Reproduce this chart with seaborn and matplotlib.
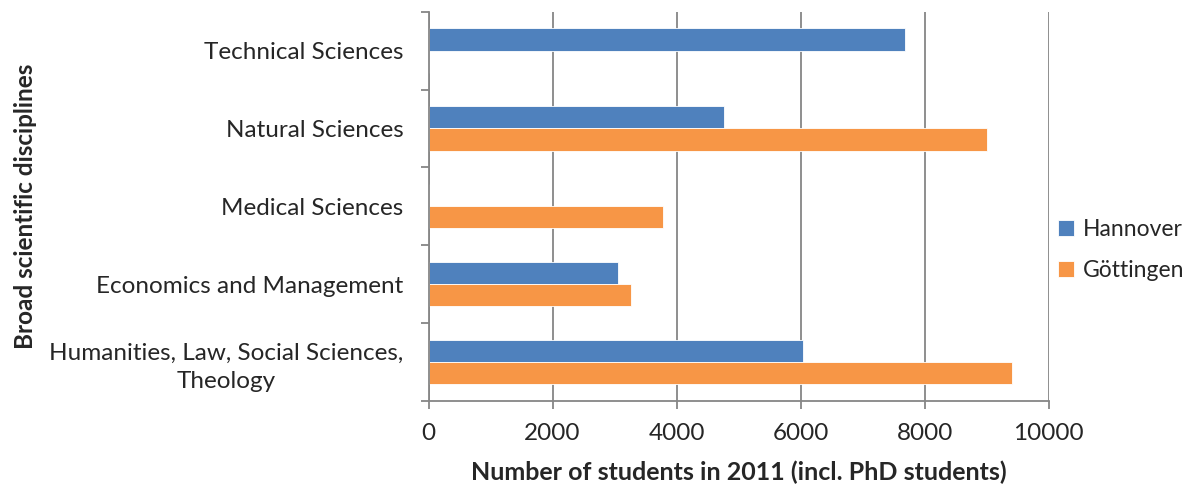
import matplotlib
matplotlib.use("Agg")
import matplotlib.pyplot as plt
import seaborn as sns
import pandas as pd
import numpy as np

# Student numbers per broad discipline (2011, incl. PhD students)
disciplines = [
    "Technical Sciences",
    "Natural Sciences",
    "Medical Sciences",
    "Economics and Management",
    "Humanities, Law, Social Sciences,\nTheology",
]
hannover = [7690, 4760, 0, 3060, 6035]
goettingen = [0, 9010, 3780, 3260, 9410]
universities = ["Hannover", "Göttingen"]
colors = ["#4F81BD", "#F79646"]
xticks = [0, 2000, 4000, 6000, 8000, 10000]

df = pd.DataFrame({
    "discipline": disciplines * 2,
    "students": hannover + goettingen,
    "university": [universities[0]] * len(disciplines) + [universities[1]] * len(disciplines),
})

sns.set_theme(style="white")
plt.rcParams["font.family"] = ["Lato", "DejaVu Sans"]

fig = plt.figure(figsize=(11.97, 4.90), dpi=100)
ax = fig.add_axes([0.358, 0.182, 0.518, 0.794])

sns.barplot(
    data=df, y="discipline", x="students", hue="university",
    order=disciplines, hue_order=universities, palette=colors,
    orient="h", width=0.57, saturation=1, ax=ax,
    edgecolor="white", linewidth=0.6,
)

fs = 17.5
grid_col = "#868686"
ax.set_xlim(0, 10000)
ax.set_ylim(len(disciplines) - 0.5, -0.5)
ax.set_xticks(xticks)
ax.set_xticklabels([str(v) for v in xticks], fontsize=fs)
ax.xaxis.grid(True, color=grid_col, linewidth=1.3)
ax.set_axisbelow(True)

# category labels without marks; marks at category boundaries
ax.tick_params(axis="y", which="major", length=0, pad=18, labelsize=fs)
ax.set_yticks(np.arange(-0.5, len(disciplines), 1.0), minor=True)
ax.tick_params(axis="y", which="minor", length=6, width=1.3, color=grid_col, direction="out", left=True)
ax.tick_params(axis="x", which="major", length=6, width=1.3, color=grid_col, direction="out", bottom=True, pad=10)
for lbl in ax.get_yticklabels():
    lbl.set_multialignment("center")
    lbl.set_linespacing(1.4)

for side in ["top", "right"]:
    ax.spines[side].set_visible(False)
for side in ["left", "bottom"]:
    ax.spines[side].set_color(grid_col)
    ax.spines[side].set_linewidth(1.3)

ax.set_xlabel("Number of students in 2011 (incl. PhD students)", fontsize=18,
              fontweight="bold", labelpad=12)
ax.set_ylabel("Broad scientific disciplines", fontsize=17.5, fontweight="bold")
ax.yaxis.set_label_coords(-0.632, 0.5)

leg = ax.legend(loc="center left", bbox_to_anchor=(1053 / 1197, 1 - 250 / 490),
                bbox_transform=fig.transFigure, frameon=False,
                fontsize=16.5, handlelength=0.7, handleheight=0.7,
                handletextpad=0.4, labelspacing=0.85, borderaxespad=0, borderpad=0.2)

fig.savefig("out.png", dpi=100)
